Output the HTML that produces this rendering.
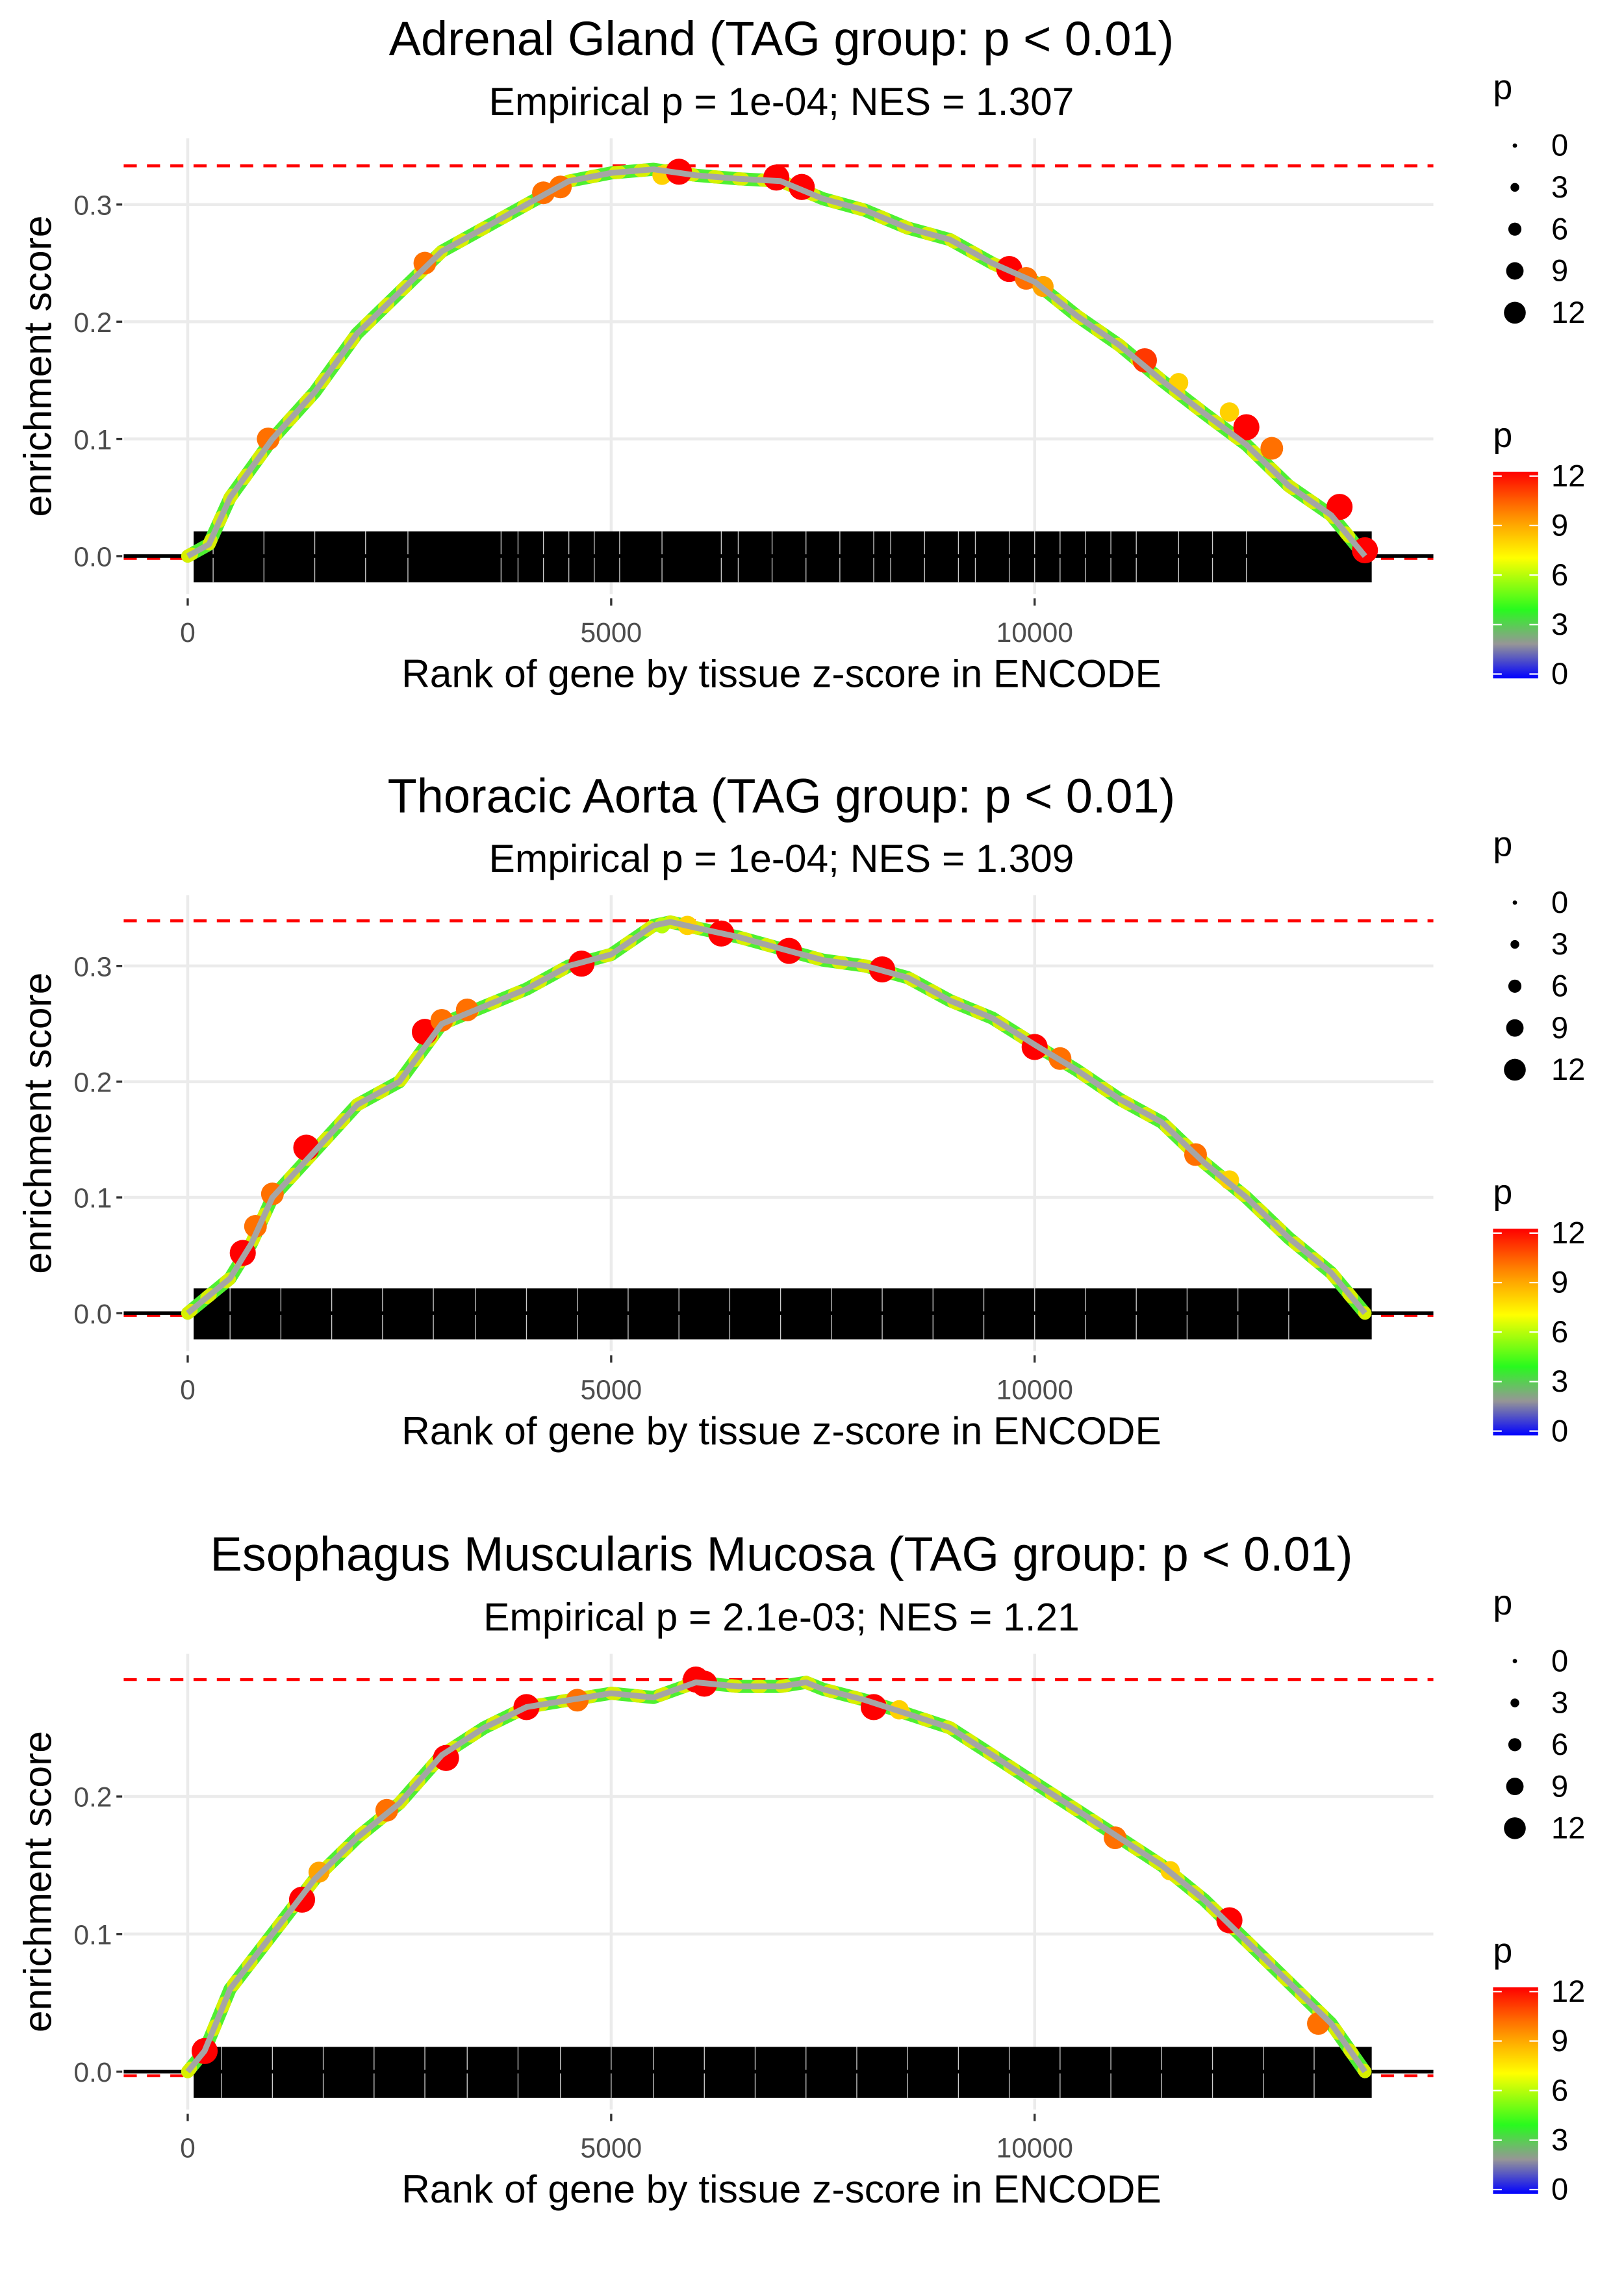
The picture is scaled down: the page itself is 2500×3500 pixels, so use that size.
<!DOCTYPE html>
<html><head><meta charset="utf-8">
<style>
html,body{margin:0;padding:0;background:#fff;}
svg{display:block;font-family:"Liberation Sans",sans-serif;}
</style></head>
<body>
<svg id="fig" xmlns="http://www.w3.org/2000/svg" width="2500" height="3500" viewBox="0 0 1116 1562" preserveAspectRatio="none"></svg>
<script>
// ---------- data ----------
const titles = ["Adrenal Gland (TAG group: p < 0.01)","Thoracic Aorta (TAG group: p < 0.01)","Esophagus Muscularis Mucosa (TAG group: p < 0.01)"];
const subtitles = ["Empirical p = 1e-04; NES = 1.307","Empirical p = 1e-04; NES = 1.309","Empirical p = 2.1e-03; NES = 1.21"];
const xTicks = [0,5000,10000];
const yTicks1 = [0.0,0.1,0.2,0.3];
const yTicks2 = [0.0,0.1,0.2,0.3];
const yTicks3 = [0.0,0.1,0.2];
const maxES = [0.333,0.339,0.285];
const minES = [-0.002,-0.002,-0.003];
const ranks1 = [0,250,500,1000,1500,2000,2500,3000,3500,4000,4500,5000,5500,6000,6500,7000,7500,8000,8500,9000,9500,10000,10500,11000,11500,12000,12500,13000,13500,13900];
const es1 = [0,0.01,0.05,0.1,0.14,0.19,0.225,0.26,0.28,0.3,0.32,0.327,0.33,0.325,0.322,0.32,0.305,0.295,0.28,0.27,0.25,0.234,0.205,0.18,0.15,0.122,0.095,0.06,0.035,0.0];
const ranks2 = [0,500,750,1000,1500,2000,2500,3000,3500,4000,4500,5000,5500,5700,6000,6500,7000,7500,8000,8500,9000,9500,10000,10500,11000,11500,12000,12500,13000,13500,13900];
const es2 = [0,0.03,0.06,0.1,0.14,0.18,0.2,0.25,0.265,0.28,0.3,0.31,0.335,0.338,0.333,0.325,0.315,0.305,0.3,0.29,0.27,0.255,0.232,0.21,0.185,0.165,0.13,0.1,0.065,0.035,0.0];
const ranks3 = [0,200,500,1000,1500,2000,2500,3000,3500,4000,4500,5000,5500,6000,6500,7000,7300,7500,8000,8500,9000,9500,10000,10500,11000,11500,12000,12500,13000,13500,13900];
const es3 = [0,0.015,0.06,0.1,0.14,0.17,0.195,0.23,0.25,0.265,0.27,0.275,0.272,0.283,0.28,0.28,0.283,0.278,0.27,0.26,0.25,0.23,0.21,0.19,0.17,0.15,0.125,0.095,0.065,0.035,0.0];
const hiRank1 = [950,2800,4200,4400,5600,5800,6950,7250,9700,9900,10100,11300,11700,12300,12500,12800,13600,13900];
const hiES1 = [0.1,0.25,0.31,0.315,0.325,0.328,0.323,0.315,0.245,0.237,0.23,0.167,0.148,0.123,0.11,0.092,0.042,0.005];
const hiP1 = [10,10,10,10,8,12,12,12,12,10,9,11,8,8,12,10,12,12];
const hiRank2 = [650,800,1000,1400,2800,3000,3300,4650,5600,5900,6300,7100,8200,10000,10300,11900,12300];
const hiES2 = [0.052,0.075,0.103,0.143,0.243,0.253,0.262,0.302,0.335,0.335,0.328,0.313,0.297,0.23,0.22,0.137,0.115];
const hiP2 = [12,10,10,12,12,10,10,12,6,8,12,12,12,12,10,10,8];
const hiRank3 = [200,1350,1550,2350,3050,4000,4600,6000,6100,8100,8400,10950,11600,12300,13350];
const hiES3 = [0.015,0.125,0.145,0.19,0.228,0.265,0.27,0.285,0.282,0.265,0.263,0.17,0.146,0.11,0.035];
const hiP3 = [12,12,9,10,12,12,10,12,12,12,8,10,8,12,10];
const rugGaps1 = [300,900,1500,2100,2600,3700,3900,4200,4500,4800,5100,5600,6300,6500,6900,7300,7700,8100,8300,8700,9100,9300,9700,10000,10300,10600,10900,11200,11700,12100,12500];
const rugGaps2 = [500,1100,1700,2300,2900,3400,4000,4600,5200,5800,6400,7000,7600,8200,8800,9400,10000,10600,11200,11800,12400,13000];
const rugGaps3 = [400,1000,1600,2200,2800,3300,3900,4400,5000,5500,6100,6700,7300,7900,8500,9100,9700,10300,10900,11500,12100,12700,13300];
const legendSizes = [0,3,6,9,12];
const legendColorTicks = [12,9,6,3,0];

// ---------- helpers ----------
const NS="http://www.w3.org/2000/svg";
const svg=document.getElementById('fig');
function mk(tag,attrs,parent,text){const e=document.createElementNS(NS,tag);for(const k in attrs)e.setAttribute(k,attrs[k]);if(text!==undefined)e.textContent=text;(parent||svg).appendChild(e);return e;}
function pColor(p){
  const stops=[[0,[0,0,255]],[2,[150,150,150]],[4,[40,250,30]],[7,[255,255,0]],[9.5,[255,140,0]],[12,[255,0,0]]];
  for(let i=0;i<stops.length-1;i++){const a=stops[i],b=stops[i+1];if(p<=b[0]){const t=(p-a[0])/(b[0]-a[0]);const c=a[1].map((v,j)=>Math.round(v+(b[1][j]-v)*t));return `rgb(${c})`;}}
  return 'rgb(255,0,0)';
}
function pRadius(p){return 2+p*0.58;}

const panels=[
 {off:0,y0:382,pxPer:805,ranks:ranks1,es:es1,hr:hiRank1,he:hiES1,hp:hiP1,yt:yTicks1,gaps:rugGaps1},
 {off:520,y0:382,pxPer:795,ranks:ranks2,es:es2,hr:hiRank2,he:hiES2,hp:hiP2,yt:yTicks2,gaps:rugGaps2},
 {off:1041,y0:382,pxPer:945,ranks:ranks3,es:es3,hr:hiRank3,he:hiES3,hp:hiP3,yt:yTicks3,gaps:rugGaps3}
];

panels.forEach((P,i)=>{
  const g=mk('g',{transform:`translate(0,${P.off})`});
  
  
  const X=r=>129+r*0.0582;
  const Y=v=>P.y0-v*P.pxPer;
  const top=95,bot=408,left=85,right=985;
  const t=mk('text',{x:537,y:38,'font-size':33,'text-anchor':'middle',fill:'#000'},g,titles[i]);
  
  
  const st=mk('text',{x:537,y:79,'font-size':27,'text-anchor':'middle',fill:'#000'},g,subtitles[i]);
  
  
  P.yt.forEach(v=>{
    const l=mk('line',{x1:left,x2:right,y1:Y(v),y2:Y(v),stroke:'#ebebeb','stroke-width':2},g);
    
    
    const tk=mk('line',{x1:80,x2:84,y1:Y(v),y2:Y(v),stroke:'#333','stroke-width':1.5},g);
    
    
    const tl=mk('text',{x:77,y:Y(v)+7,'font-size':19,'text-anchor':'end',fill:'#4d4d4d'},g,v.toFixed(1));
    
    
  });
  xTicks.forEach(v=>{
    const l=mk('line',{x1:X(v),x2:X(v),y1:top,y2:bot,stroke:'#ebebeb','stroke-width':2},g);
    
    
    const tk=mk('line',{x1:X(v),x2:X(v),y1:411,y2:416,stroke:'#333','stroke-width':1.5},g);
    
    
    const tl=mk('text',{x:X(v),y:441,'font-size':19,'text-anchor':'middle',fill:'#4d4d4d'},g,String(v));
    
    
  });
  const xt=mk('text',{x:537,y:472,'font-size':27,'text-anchor':'middle',fill:'#000'},g,'Rank of gene by tissue z-score in ENCODE');
  
  
  const yt=mk('text',{x:0,y:0,'font-size':27,'text-anchor':'middle',fill:'#000',transform:`translate(35,${(top+bot)/2}) rotate(-90)`},g,'enrichment score');
  
  
  const mx=mk('line',{x1:left,x2:right,y1:Y(maxES[i]),y2:Y(maxES[i]),stroke:'#ff0000','stroke-width':2,'stroke-dasharray':'9,7'},g);
  
  
  const mn=mk('line',{x1:left,x2:right,y1:Y(minES[i]),y2:Y(minES[i]),stroke:'#ff0000','stroke-width':2,'stroke-dasharray':'9,7'},g);
  
  
  const rug=mk('rect',{x:X(70),y:Y(0)-17,width:X(13980)-X(70),height:35,fill:'#000'},g);
  
  
  P.gaps.forEach(r=>{
    const gl=mk('line',{x1:X(r),x2:X(r),y1:Y(0)-17,y2:Y(0)+18,stroke:'#fff','stroke-width':0.6,opacity:0.8},g);
    
    
  });
  const zl=mk('line',{x1:left,x2:right,y1:Y(0),y2:Y(0),stroke:'#000','stroke-width':2.5},g);
  
  
  const d=P.ranks.map((r,k)=>(k?'L':'M')+X(r).toFixed(1)+','+Y(P.es[k]).toFixed(1)).join(' ');
  const c1=mk('path',{d:d,fill:'none',stroke:'#4ef030','stroke-width':9,'stroke-linejoin':'round','stroke-linecap':'round'},g);
  
  
  const c1b=mk('path',{d:d,fill:'none',stroke:'#d8f000','stroke-width':9,'stroke-dasharray':'3,14','stroke-linecap':'round'},g);
  
  
  P.hr.forEach((r,k)=>{
    const c=mk('circle',{cx:X(r),cy:Y(P.he[k]),r:pRadius(P.hp[k]),fill:pColor(P.hp[k])},g);
    
    
  });
  const c2=mk('path',{d:d,fill:'none',stroke:'#a5a5a5','stroke-width':4,'stroke-linejoin':'round'},g);
  
  
  const lg=mk('g',{},g);
  
  
  mk('text',{x:1026,y:68,'font-size':24,fill:'#000'},lg,'p');
  legendSizes.forEach((s,k)=>{
    const yy=100+k*28.7;
    const dot=mk('circle',{cx:1041,cy:yy,r:1.5+s*0.5,fill:'#000'},lg);
    
    
    mk('text',{x:1066,y:yy+7,'font-size':21,fill:'#000'},lg,String(s));
  });
  const cg=mk('g',{},g);
  
  
  mk('text',{x:1026,y:307,'font-size':24,fill:'#000'},cg,'p');
  const gid='grad'+i;
  const defs=mk('defs',{},cg);
  const lgr=mk('linearGradient',{id:gid,x1:0,y1:1,x2:0,y2:0},defs);
  [0,1,2,3,4,5,6,7,8,9,10,11,12].forEach(p=>mk('stop',{offset:(p/12).toFixed(3),'stop-color':pColor(p)},lgr));
  const bar=mk('rect',{x:1026,y:324,width:31,height:142,fill:`url(#${gid})`},cg);
  
  
  legendColorTicks.forEach(v=>{
    const yy=324+3+(12-v)/12*136;
    mk('line',{x1:1026,x2:1032,y1:yy,y2:yy,stroke:'#fff','stroke-width':1},cg);
    mk('line',{x1:1051,x2:1057,y1:yy,y2:yy,stroke:'#fff','stroke-width':1},cg);
    mk('text',{x:1066,y:yy+7,'font-size':21,fill:'#000'},cg,String(v));
  });
});
</script>
</body></html>
